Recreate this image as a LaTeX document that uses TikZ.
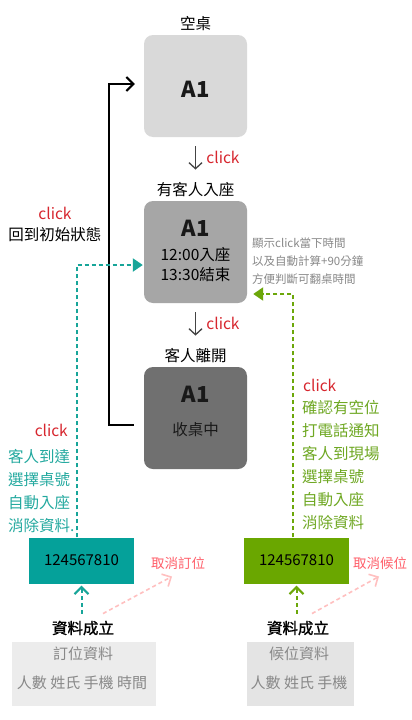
\documentclass[tikz,border=0pt]{standalone}
\usepackage{fontspec}
\setmainfont{Noto Sans CJK TC}
\newfontfamily\medfont[FakeBold=1.2]{Noto Sans CJK TC}
\usetikzlibrary{arrows.meta}
\definecolor{boxA}{HTML}{D9D9D9}
\definecolor{boxB}{HTML}{A6A6A6}
\definecolor{boxC}{HTML}{707070}
\definecolor{tealbox}{HTML}{05A19A}
\definecolor{tealline}{HTML}{17A599}
\definecolor{tealtext}{HTML}{23A99F}
\definecolor{greenbox}{HTML}{6AA700}
\definecolor{greenline}{HTML}{6CA70A}
\definecolor{greentext}{HTML}{6FA823}
\definecolor{clickred}{HTML}{D7262E}
\definecolor{pinktext}{HTML}{FF5F6A}
\definecolor{pinkline}{HTML}{FFC0C0}
\definecolor{graytext}{HTML}{888888}
\definecolor{infobgA}{HTML}{ECECEC}
\definecolor{infobgB}{HTML}{E4E4E4}
\definecolor{arrgray}{HTML}{444444}
\newcommand\myfs[1]{\fontsize{#1}{#1}\selectfont}
\begin{document}
\begin{tikzpicture}[x=1pt,y=-1pt,
  tbox/.style={rounded corners=9pt, minimum width=103pt, minimum height=102pt, inner sep=0pt},
  lbl/.style={font=\myfs{15.5}, inner sep=0pt, text=black},
  big/.style={font=\myfs{22}\bfseries, inner sep=0pt, text=black!90},
  clk/.style={font=\myfs{15.5}, inner sep=0pt, text=clickred},
  downarr/.style={draw=arrgray, line width=1.3pt, -{Straight Barb[length=6pt,width=13pt]}},
  looparr/.style={draw=black, line width=2pt, -{Straight Barb[length=7pt,width=14pt]}},
  tealdash/.style={draw=tealline, line width=2.2pt, dash pattern=on 4pt off 3pt, -{Triangle[length=10pt,width=13pt]}},
  greendash/.style={draw=greenline, line width=2.2pt, dash pattern=on 4pt off 3pt, -{Triangle[length=10pt,width=13pt]}},
  chev/.style={line width=2pt, dash pattern=on 4pt off 3pt, -{Straight Barb[length=7pt,width=14pt]}},
  numbox/.style={minimum width=105pt, minimum height=46pt, inner sep=0pt, font=\myfs{15}},
  done/.style={font=\medfont\myfs{15.5}, inner sep=0pt, text=black},
]
\useasboundingbox (0,0) rectangle (412,720);
\fill[white] (0,0) rectangle (412,720);

% state boxes
\node[lbl] (t1) at (195.5,24) {空桌};
\node[tbox, fill=boxA] (b1) at (195.5,86) {};
\node[big] (a1) at (195.5,89) {A1};

\node[lbl] (t2) at (195.5,190) {有客人入座};
\node[tbox, fill=boxB] (b2) at (195.5,252) {};
\node[big] (a2) at (195.5,228) {A1};
\node[lbl, align=center, font=\fontsize{15.5}{20}\selectfont] (tm) at (195.5,265) {12:00入座\\13:30結束};

\node[lbl] (t3) at (195.5,356) {客人離開};
\node[tbox, fill=boxC] (b3) at (195.5,418) {};
\node[big] (a3) at (195.5,394) {A1};
\node[lbl, text=black!90] (sz) at (195.5,430) {收桌中};

% down arrows
\draw[downarr, shorten <=9pt, shorten >=13pt] (b1.south) -- (t2.north);
\node[clk] (c1k) at (223,157) {click};
\draw[downarr, shorten <=9pt, shorten >=13pt] (b2.south) -- (t3.north);
\node[clk] (c2k) at (223,323) {click};

% info text at right of box2
\node[inner sep=0pt, anchor=west, align=left, text=graytext, font=\fontsize{11.5}{18}\selectfont] (info) at (252,261) {顯示click當下時間\\以及自動計算+90分鐘\\方便判斷可翻桌時間};

% loop back
\draw[looparr, shorten <=10pt, shorten >=9pt] ([yshift=-7pt]b3.west) -- ++(-35,0) |- ([yshift=2pt]b1.west);
\node[clk] (c3k) at (55,213) {click};
\node[lbl] (back) at (55,235) {回到初始狀態};

% teal (reservation) column
\node[numbox, fill=tealbox] (tb) at (81.5,560.5) {124567810};
\draw[tealdash, shorten >=1pt] ([xshift=-4.5pt]tb.north) |- ([yshift=-13pt]b2.west);
\node[clk, anchor=east] (c4k) at (68,430) {click};
\node[inner sep=0pt, anchor=north west, align=left, text=tealtext, font=\fontsize{15.5}{23}\selectfont] (tlist) at (8,449) {客人到達\\選擇桌號\\自動入座\\消除資料.};

\node[done] (d1) at (83,628) {資料成立};
\node[inner sep=0pt, text=pinktext, font=\myfs{13.5}] (x1) at (178,563) {取消訂位};
\draw[chev, draw=tealline, shorten <=7pt, shorten >=2pt] (tb.south |- d1.north) -- (tb.south);
\draw[chev, draw=pinkline, line width=1.6pt] ([xshift=20pt,yshift=7pt]d1.north) -- ([xshift=-6pt,yshift=-7pt]x1.south);
\node[fill=infobgA, minimum width=144pt, minimum height=64pt, inner sep=0pt] (g1) at (84,674) {};
\node[inner sep=0pt, text=graytext, font=\myfs{15}] (g1a) at (83,654) {訂位資料};
\node[inner sep=0pt, text=graytext, font=\myfs{15}] (g1b) at (82,683) {人數 姓氏 手機 時間};

% green (waitlist) column
\node[numbox, fill=greenbox] (gb) at (296.5,560.5) {124567810};
\draw[greendash, shorten >=1pt] ([xshift=-3.5pt]gb.north) |- ([xshift=5pt,yshift=-42pt]b2.east);
\node[clk, anchor=west] (c5k) at (303,385) {click};
\node[inner sep=0pt, anchor=north west, align=left, text=greentext, font=\fontsize{15.5}{23}\selectfont] (glist) at (302,400) {確認有空位\\打電話通知\\客人到現場\\選擇桌號\\自動入座\\消除資料};

\node[done] (d2) at (298,628) {資料成立};
\node[inner sep=0pt, text=pinktext, font=\myfs{13.5}] (x2) at (380,563) {取消候位};
\draw[chev, draw=greenline, shorten <=7pt, shorten >=2pt] (gb.south |- d2.north) -- (gb.south);
\draw[chev, draw=pinkline, line width=1.6pt] ([xshift=14pt,yshift=7pt]d2.north) -- ([xshift=-1pt,yshift=-7pt]x2.south);
\node[fill=infobgB, minimum width=107pt, minimum height=64pt, inner sep=0pt] (g2) at (300.5,674) {};
\node[inner sep=0pt, text=graytext, font=\myfs{15}] (g2a) at (299,654) {候位資料};
\node[inner sep=0pt, text=graytext, font=\myfs{15}] (g2b) at (299,683) {人數 姓氏 手機};
\end{tikzpicture}
\end{document}
